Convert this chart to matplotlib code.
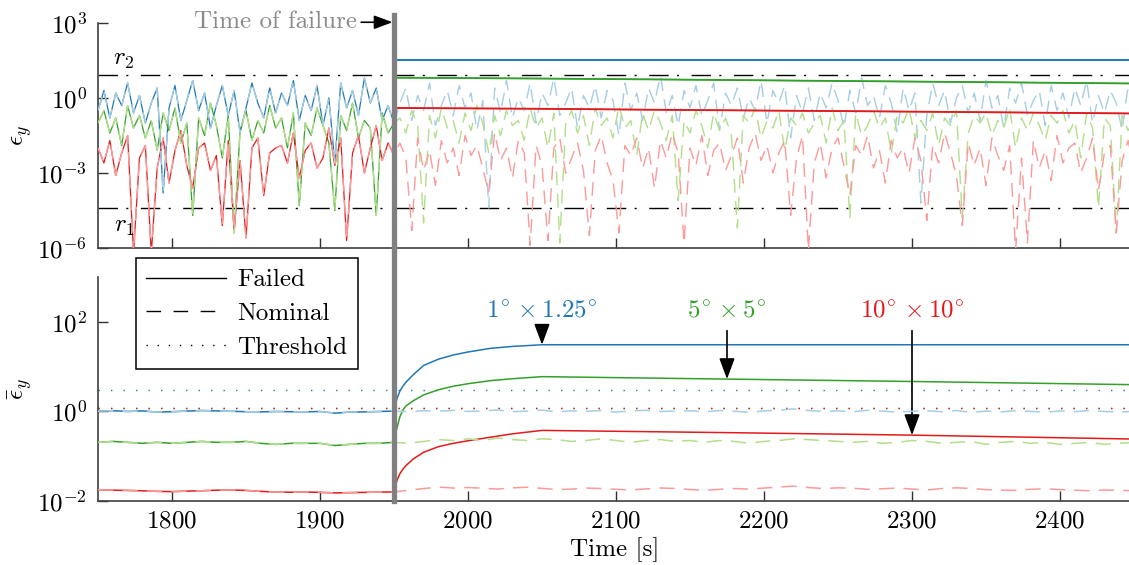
import matplotlib
matplotlib.use("Agg")
import matplotlib.pyplot as plt
import numpy as np
from matplotlib.lines import Line2D
from matplotlib.ticker import FixedLocator, LogFormatterSciNotation, NullLocator
from matplotlib.transforms import blended_transform_factory

plt.rcParams["font.family"] = "serif"
plt.rcParams["font.serif"] = ["cmr10"]
plt.rcParams["mathtext.fontset"] = "cm"
plt.rcParams["axes.formatter.use_mathtext"] = True
plt.rcParams["font.size"] = 18

BLUE, GREEN, RED = "#1f78b4", "#33a02c", "#e31a1c"
BLUE_L, GREEN_L, RED_L = "#a6cee3", "#b2df8a", "#fb9a99"

T_FAIL = 1950

# raw error eps_y (log10), one value every 4 s starting at 1750 s
RAW_STEP = 4
RAW_BLUE = [
    -0.5, 0.3, -0.8, 0.2, -0.3, 0.6, -0.6, 0.1, -1.0, -0.2,
    0.4, -3.8, -0.4, 0.5, -0.9, -0.1, 0.7, -0.5, 0.2, -1.2,
    -0.3, 0.5, -0.7, 0.3, -1.4, -0.4, 0.6, -0.2, -0.8, 0.4,
    -0.6, 0.2, -0.3, 0.7, -0.9, 0.1, -0.5, 0.5, -1.1, 0.0,
    -2.6, 0.6, -0.4, 0.3, -0.7, 0.8, -0.2, 0.4, -0.9, -0.3, -1.0,
    -0.2, 0.4, -0.9, 0.1, -0.5, 0.6, -1.1, -0.3, 0.3, -0.7,
    0.5, -0.4, 0.2, -1.3, -0.1, -4.4, 0.4, -0.6, 0.7, -0.8,
    0.0, -0.5, 0.6, -1.0, 0.2, -0.3, 0.8, -0.7, -0.2, 0.4,
    -1.2, 0.1, -0.4, 0.5, -0.8, 0.3, -0.1, -1.5, 0.6, -0.5,
    0.2, -0.9, 0.4, -0.2, 0.9, -0.6, 0.1, -1.1, 0.3, -0.4,
    0.5, -0.7, -0.1, 0.6, -1.3, 0.2, -0.3, 0.4, -0.8, 0.0,
    -0.5, 0.7, -1.0, 0.3, -0.2, 0.5, -1.6, 0.1, -0.6, 0.4,
    -0.9, 0.2, -0.4, 0.6, -0.1, -1.2, 0.3, -0.6, 0.8, -0.3,
    0.1, -0.8, 0.5, -0.2, -1.4, 0.4, -0.5, 0.2, -4.2, -0.7,
    0.6, -0.3, 0.3, -1.0, 0.0, 0.5, -0.6, 0.2, -0.9, 0.7,
    -0.4, 0.1, -1.2, 0.4, -0.2, 0.6, -0.7, -0.1, 0.3, -1.1,
    0.5, -0.5, 0.2, -0.8, 0.4, -0.3, 0.7, -1.0, 0.1, -0.6,
    0.3, -0.2, -1.3, 0.5, -0.4,
]
RAW_GREEN = [
    -1.0, -0.5, -1.4, -0.8, -1.9, -0.3, -1.2, -0.7, -1.6, -0.9,
    -2.1, -0.6, -1.3, -0.4, -1.8, -1.0, -4.7, -0.8, -1.5, -0.2,
    -1.1, -2.4, -0.7, -5.4, -1.3, -0.5, -1.7, -0.9, -1.4, -0.3,
    -1.2, -0.8, -2.0, -0.6, -4.3, -1.0, -1.5, -0.4, -1.1, -1.8,
    -4.5, -0.7, -1.3, -0.2, -1.6, -0.9, -1.2, -4.7, -0.6, -1.4, -1.0,
    -0.8, -1.4, -0.5, -1.1, -5.0, -0.7, -1.6, -0.4, -1.2, -0.9,
    -1.8, -0.6, -1.3, -0.3, -1.0, -2.2, -0.7, -1.5, -0.5, -1.1,
    -0.9, -1.7, -0.4, -1.2, -0.8, -2.0, -0.6, -5.8, -1.0, -0.5,
    -1.4, -0.7, -1.9, -0.4, -1.1, -0.8, -1.6, -0.3, -1.2, -0.9,
    -2.3, -0.6, -1.3, -0.5, -1.0, -1.7, -0.7, -4.1, -0.9, -1.4,
    -0.5, -1.1, -2.0, -0.6, -1.3, -0.8, -1.5, -5.2, -0.7, -1.0,
    -0.4, -1.6, -0.9, -1.2, -0.5, -2.1, -0.8, -1.1, -0.6, -1.4,
    -1.0, -0.7, -1.8, -0.4, -1.3, -0.9, -4.8, -0.6, -1.5, -1.1,
    -0.5, -1.2, -0.8, -2.2, -0.7, -1.0, -0.4, -1.6, -0.9, -1.3,
    -0.6, -1.9, -0.8, -1.1, -0.5, -4.8, -1.4, -0.7, -1.0, -0.6,
    -1.5, -0.9, -1.2, -0.4, -2.0, -0.8, -1.3, -0.6, -1.1, -1.7,
    -0.7, -1.0, -0.5, -1.4, -0.9, -2.4, -0.6, -1.2, -4.4, -0.8,
    -1.1, -5.4, -0.7, -1.3, -0.9,
]
RAW_RED = [
    -2.0, -2.6, -1.7, -3.1, -2.2, -1.5, -6.2, -2.4, -1.9, -6.2,
    -2.8, -1.6, -3.4, -2.1, -1.3, -2.7, -3.6, -2.0, -1.8, -2.9,
    -2.3, -5.1, -1.7, -5.3, -2.5, -5.6, -2.0, -1.6, -3.9, -2.2,
    -2.0, -1.9, -2.6, -1.4, -3.2, -2.1, -1.8, -2.8, -2.4, -1.2,
    -2.7, -1.6, -5.7, -2.2, -1.5, -3.0, -2.0, -1.1, -2.5, -1.8, -2.3,
    -1.8, -2.4, -5.3, -1.6, -2.9, -2.1, -3.5, -1.7, -2.6, -2.0,
    -3.1, -1.5, -2.3, -1.9, -2.8, -3.8, -1.4, -2.5, -2.0, -3.2,
    -1.7, -2.2, -5.9, -1.9, -2.7, -5.7, -2.0, -1.6, -3.0, -2.4,
    -1.8, -2.9, -5.5, -2.1, -1.5, -2.6, -3.3, -5.4, -1.9, -2.3,
    -1.6, -2.8, -2.0, -3.6, -1.7, -2.4, -1.4, -2.2, -5.8, -2.0,
    -2.7, -1.5, -3.1, -2.1, -1.8, -2.9, -2.3, -1.6, -3.4, -2.0,
    -1.4, -2.5, -1.9, -3.0, -2.2, -1.7, -4.7, -2.4, -1.5, -6.1,
    -2.6, -1.8, -3.2, -2.0, -1.6, -2.7, -3.9, -1.9, -2.3, -1.5,
    -2.8, -2.1, -3.4, -1.7, -2.4, -2.0, -3.0, -1.6, -2.5, -4.9,
    -1.9, -2.6, -1.4, -2.2, -3.1, -5.1, -1.8, -2.7, -2.0, -3.5,
    -1.6, -2.3, -2.9, -1.9, -6.1, -2.4, -5.8, -1.7, -2.8, -2.1,
    -3.3, -1.5, -2.6, -2.0, -1.8, -3.0, -2.4, -1.6, -3.7, -2.2,
    -1.9, -5.4, -2.5, -1.7, -2.8,
]

# raw error of the failed estimator after the failure
FAIL_T = [1950, 2050, 2150, 2250, 2350, 2450]
FAIL_BLUE = [32, 32, 32, 32, 32, 32]
FAIL_GREEN = [6.5, 6.0, 5.4, 4.8, 4.3, 3.8]
FAIL_RED = [0.40, 0.37, 0.33, 0.30, 0.27, 0.24]

# mean error, nominal, one value every 10 s starting at 1750 s
MEAN_STEP = 10
MEAN_BLUE = [
    1.00, 1.02, 0.98, 1.01, 0.95, 0.97, 1.00, 1.03, 1.01, 0.99, 0.97,
    0.96, 0.98, 0.97, 0.96, 0.98, 0.90, 0.95, 0.96, 0.98, 1.00,
    0.97, 1.02, 0.99, 1.04, 0.98, 1.01, 1.06, 0.97, 1.00, 1.05,
    0.96, 1.02, 0.99, 1.03, 0.95, 1.01, 1.04, 0.98, 1.00, 1.02,
    0.96, 1.03, 0.99, 0.94, 1.01, 1.05, 1.12, 1.03, 0.98, 1.01,
    0.97, 1.04, 1.00, 0.95, 0.99, 1.02, 0.97, 1.03, 0.93, 1.00,
    0.96, 1.02, 0.99, 0.94, 1.01, 0.97, 1.03, 0.98, 0.95, 0.99,
]
MEAN_GREEN = [
    0.20, 0.21, 0.20, 0.19, 0.20, 0.19, 0.20, 0.21, 0.20, 0.20, 0.21,
    0.19, 0.18, 0.19, 0.19, 0.19, 0.17, 0.18, 0.19, 0.19, 0.20,
    0.19, 0.21, 0.23, 0.22, 0.24, 0.22, 0.25, 0.23, 0.22, 0.24,
    0.23, 0.21, 0.22, 0.24, 0.22, 0.20, 0.22, 0.23, 0.21, 0.22,
    0.20, 0.22, 0.21, 0.19, 0.21, 0.22, 0.24, 0.23, 0.22, 0.21,
    0.20, 0.21, 0.19, 0.20, 0.22, 0.21, 0.19, 0.20, 0.21, 0.18,
    0.20, 0.21, 0.19, 0.20, 0.18, 0.19, 0.20, 0.18, 0.19, 0.20,
]
MEAN_RED = [
    0.0175, 0.0170, 0.0168, 0.0165, 0.0160, 0.0158, 0.0162, 0.0165, 0.0170, 0.0172, 0.0168,
    0.0160, 0.0155, 0.0153, 0.0155, 0.0152, 0.0148, 0.0150, 0.0152, 0.0154, 0.0155,
    0.0170, 0.0185, 0.0200, 0.0190, 0.0195, 0.0188, 0.0180, 0.0192, 0.0198, 0.0187,
    0.0175, 0.0180, 0.0190, 0.0185, 0.0178, 0.0172, 0.0182, 0.0190, 0.0186, 0.0176,
    0.0170, 0.0178, 0.0185, 0.0180, 0.0190, 0.0200, 0.0210, 0.0195, 0.0185, 0.0192,
    0.0188, 0.0178, 0.0183, 0.0190, 0.0180, 0.0172, 0.0185, 0.0192, 0.0186, 0.0175,
    0.0170, 0.0168, 0.0178, 0.0182, 0.0176, 0.0170, 0.0165, 0.0172, 0.0168, 0.0165,
]

# mean error of the failed estimator after the failure
FMEAN_T = [1950, 1951, 1952, 1954, 1956, 1958, 1963, 1970, 1980, 1990, 2000, 2015, 2030, 2050, 2175, 2300, 2450]
FMEAN_BLUE = [1.0, 1.4, 1.9, 2.8, 3.6, 4.4, 6.5, 10.5, 14.5, 18, 21, 25.3, 28, 30.5, 30.5, 30.5, 30.5]
FMEAN_GREEN = [0.2, 0.3, 0.42, 0.75, 1.05, 1.3, 1.7, 2.3, 3.0, 3.6, 4.1, 4.8, 5.3, 5.9, 5.2, 4.6, 3.9]
FMEAN_RED = [0.015, 0.021, 0.028, 0.04, 0.05, 0.06, 0.085, 0.12, 0.16, 0.19, 0.217, 0.26, 0.31, 0.37, 0.33, 0.29, 0.237]

THRESH_R1 = 4.1e-5
THRESH_R2 = 8.1
THRESH = {BLUE: 2.95, GREEN: 1.17, RED: 1.17}

NOMINAL_DASH = (0, (10, 6))
DASHDOT = (0, (14, 6, 1.5, 9))
DOTTED = (0, (1, 8))
ARROW = "-|>,head_length=0.75,head_width=0.28"

fig = plt.figure(figsize=(11.29, 5.65), dpi=100)
W, H = 1129, 565
ax1 = fig.add_axes([98 / W, 1 - 248 / H, 1036 / W, 225 / H])
ax2 = fig.add_axes([98 / W, 1 - 500.5 / H, 1036 / W, 223.5 / H])

series = [
    (RAW_BLUE, FAIL_BLUE, MEAN_BLUE, FMEAN_BLUE, BLUE, BLUE_L),
    (RAW_GREEN, FAIL_GREEN, MEAN_GREEN, FMEAN_GREEN, GREEN, GREEN_L),
    (RAW_RED, FAIL_RED, MEAN_RED, FMEAN_RED, RED, RED_L),
]

# top: raw error
for raw, fail, mean, fmean, dark, light in series:
    vals = 10 ** np.array(raw)
    t = 1750 + RAW_STEP * np.arange(len(vals))
    pre = t <= T_FAIL
    ax1.plot(np.r_[t[pre], FAIL_T], np.r_[vals[pre], fail], color=dark, lw=0.9, zorder=3)
for raw, fail, mean, fmean, dark, light in series:
    vals = 10 ** np.array(raw)
    t = 1750 + RAW_STEP * np.arange(len(vals))
    ax1.plot(t, vals, color=light, lw=1.0, ls=NOMINAL_DASH, zorder=4)
for raw, fail, mean, fmean, dark, light in series:
    ax1.plot(FAIL_T, fail, color=dark, lw=1.3, zorder=5)

ax1.axhline(THRESH_R2, color="k", lw=1.0, ls=DASHDOT, zorder=2)
ax1.axhline(THRESH_R1, color="k", lw=1.0, ls=DASHDOT, zorder=2)
ax1.text(1767.5, 32, "$r_2$", ha="center", va="center")
ax1.text(1767.5, 7e-6, "$r_1$", ha="center", va="center")

# bottom: mean error
for raw, fail, mean, fmean, dark, light in series:
    vals = np.array(mean)
    t = 1750 + MEAN_STEP * np.arange(len(vals))
    pre = t <= T_FAIL
    ax2.plot(np.r_[t[pre], FMEAN_T], np.r_[vals[pre], fmean], color=dark, lw=1.1, zorder=3)
for raw, fail, mean, fmean, dark, light in series:
    vals = np.array(mean)
    t = 1750 + MEAN_STEP * np.arange(len(vals))
    ax2.plot(t, vals, color=light, lw=1.1, ls=NOMINAL_DASH, zorder=4)
for col in [BLUE, GREEN, RED]:
    ax2.axhline(THRESH[col], color=col, lw=1.0, ls=DOTTED, zorder=2)

notes = [
    (r"$1^{\!\circ}\times 1.25^{\!\circ}$", 2050, 30.5, 69, BLUE),
    (r"$5^{\!\circ}\times 5^{\!\circ}$", 2175, 5.2, 63, GREEN),
    (r"$10^{\!\circ}\times 10^{\!\circ}$", 2300, 0.29, 63, RED),
]
for label, x, tip, tail, col in notes:
    ax2.text(x, 174, label, color=col, ha="center", va="center")
    ax2.annotate("", xy=(x, tip), xytext=(x, tail),
                 arrowprops=dict(arrowstyle=ARROW, color="k", lw=1.2,
                                 mutation_scale=17, shrinkA=0, shrinkB=0))

for ax, lo, hi, ticks in [(ax1, 1e-6, 1e3, [1e-6, 1e-3, 1e0, 1e3]),
                          (ax2, 1e-2, 1e3, [1e-2, 1e0, 1e2])]:
    ax.set_yscale("log")
    ax.set_ylim(lo, hi)
    ax.set_xlim(1750, 2450)
    ax.yaxis.set_major_locator(FixedLocator(ticks))
    ax.yaxis.set_major_formatter(LogFormatterSciNotation())
    ax.yaxis.set_minor_locator(NullLocator())
    ax.xaxis.set_major_locator(FixedLocator([1800, 1900, 2000, 2100, 2200, 2300, 2400]))
    ax.spines["top"].set_visible(False)
    ax.spines["right"].set_visible(False)
    for s in ["left", "bottom"]:
        ax.spines[s].set_color("#404040")
        ax.spines[s].set_linewidth(1.2)
    ax.tick_params(direction="in", length=7, width=1.0, color="#303030")
    ax.tick_params(axis="y", pad=8)
    ax.tick_params(axis="x", pad=7)

ax1.tick_params(axis="x", labelbottom=False)
ax1.set_ylabel(r"$\epsilon_y$")
ax2.set_ylabel(r"$\bar{\epsilon}_y$")
ax1.yaxis.set_label_coords(-0.062, 0.5)
ax2.yaxis.set_label_coords(-0.062, 0.5)
ax2.set_xlabel("Time [s]")
ax2.xaxis.set_label_coords((615 - 98) / 1036, -0.165)

# failure marker across both panels
trans = blended_transform_factory(ax2.transData, fig.transFigure)
fig.add_artist(Line2D([T_FAIL, T_FAIL], [1 - 500.5 / H, 1 - 15 / H], transform=trans,
                      color="#808080", lw=3.8, zorder=10))
ax1.annotate("Time of failure", xy=(1949, 10 ** 3.03), xytext=(1925, 10 ** 3.03),
             ha="right", va="center", color="#8a8a8a", annotation_clip=False,
             arrowprops=dict(arrowstyle=ARROW, color="k", lw=1.2,
                             mutation_scale=15, shrinkA=1, shrinkB=0))

handles = [
    Line2D([], [], color="k", lw=1.0),
    Line2D([], [], color="k", lw=1.0, ls=(0, (10.5, 9))),
    Line2D([], [], color="k", lw=1.0, ls=(0, (1, 7))),
]
leg = fig.legend(handles, ["Failed", "Nominal", "Threshold"], loc="upper left",
                 bbox_to_anchor=(135.7 / W, 1 - 258.3 / H), borderaxespad=0,
                 fancybox=False, framealpha=1, edgecolor="k", handlelength=3.2,
                 handletextpad=0.45, borderpad=0.42, labelspacing=0.45)
leg.get_frame().set_linewidth(1.1)
leg.set_zorder(20)

fig.savefig("out.png", dpi=100)
